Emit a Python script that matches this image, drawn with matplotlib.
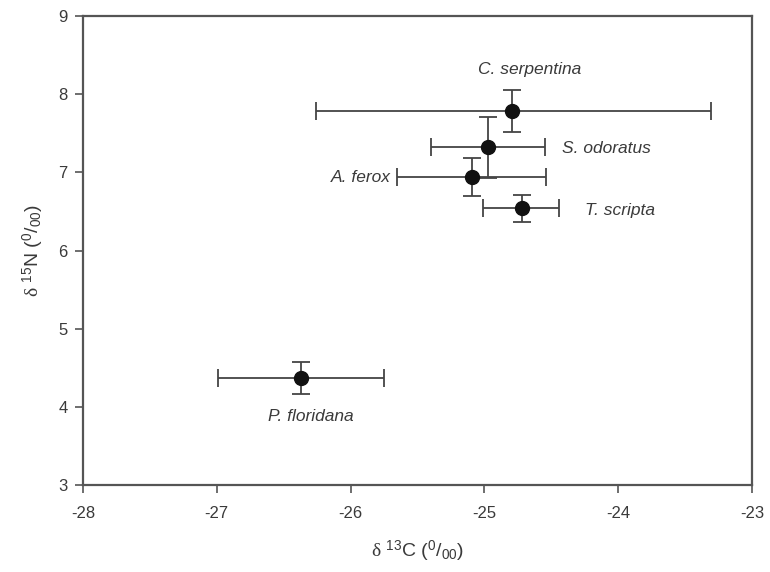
import matplotlib
matplotlib.use("Agg")
import matplotlib.pyplot as plt

# 種ごとの平均値と誤差
species = ["C. serpentina", "S. odoratus", "A. ferox", "T. scripta", "P. floridana"]
d13c = [-24.79, -24.97, -25.09, -24.72, -26.37]
d15n = [7.78, 7.32, 6.94, 6.54, 4.37]
xerr_lo = [1.47, 0.43, 0.56, 0.29, 0.62]
xerr_hi = [1.48, 0.42, 0.55, 0.28, 0.62]
yerr_lo = [0.27, 0.39, 0.24, 0.17, 0.20]
yerr_hi = [0.27, 0.39, 0.24, 0.17, 0.20]

# ラベル位置 (x, y, ha)
label_x = [-24.66, -24.42, -25.70, -24.25, -26.30]
label_y = [8.32, 7.31, 6.94, 6.51, 3.88]
label_ha = ["center", "left", "right", "left", "center"]

x_ticks = [-28, -27, -26, -25, -24, -23]
y_ticks = [3, 4, 5, 6, 7, 8, 9]

plt.rcParams["font.family"] = ["Liberation Sans", "DejaVu Sans"]
plt.rcParams["mathtext.fontset"] = "custom"
plt.rcParams["mathtext.rm"] = "Liberation Sans"
plt.rcParams["mathtext.it"] = "Liberation Serif"
plt.rcParams["mathtext.bf"] = "Liberation Sans:bold"

SPINE = "#555555"
TXT = "#3a3a3a"

fig = plt.figure(figsize=(7.7, 5.72), dpi=100)
ax = fig.add_axes([0.1078, 0.1521, 0.8688, 0.8199])

ax.errorbar(d13c, d15n,
            xerr=[xerr_lo, xerr_hi], yerr=[yerr_lo, yerr_hi],
            fmt="o", color="#111111", markersize=10,
            ecolor="#444444", elinewidth=1.3, capsize=6.5, capthick=1.3,
            zorder=3)

for name, lx, ly, ha in zip(species, label_x, label_y, label_ha):
    ax.text(lx, ly, name, ha=ha, va="center", style="italic",
            fontsize=12.5, color=TXT)

ax.set_xlim(-28, -23)
ax.set_ylim(3, 9)
ax.set_xticks(x_ticks)
ax.set_yticks(y_ticks)
ax.set_xticklabels([str(v) for v in x_ticks])

for s in ax.spines.values():
    s.set_color(SPINE)
    s.set_linewidth(1.6)

ax.tick_params(direction="out", length=6, width=1.2, color=SPINE,
               labelsize=12, labelcolor=TXT)
ax.tick_params(axis="x", pad=9)
ax.tick_params(axis="y", pad=5)

ax.set_xlabel(r"$\delta$ $^{13}$C ($^{0}$/$_{00}$)", fontsize=14, color=TXT, labelpad=13)
ax.set_ylabel(r"$\delta$ $^{15}$N ($^{0}$/$_{00}$)", fontsize=14, color=TXT, labelpad=9)

fig.savefig("out.png", dpi=100)
plt.close(fig)
